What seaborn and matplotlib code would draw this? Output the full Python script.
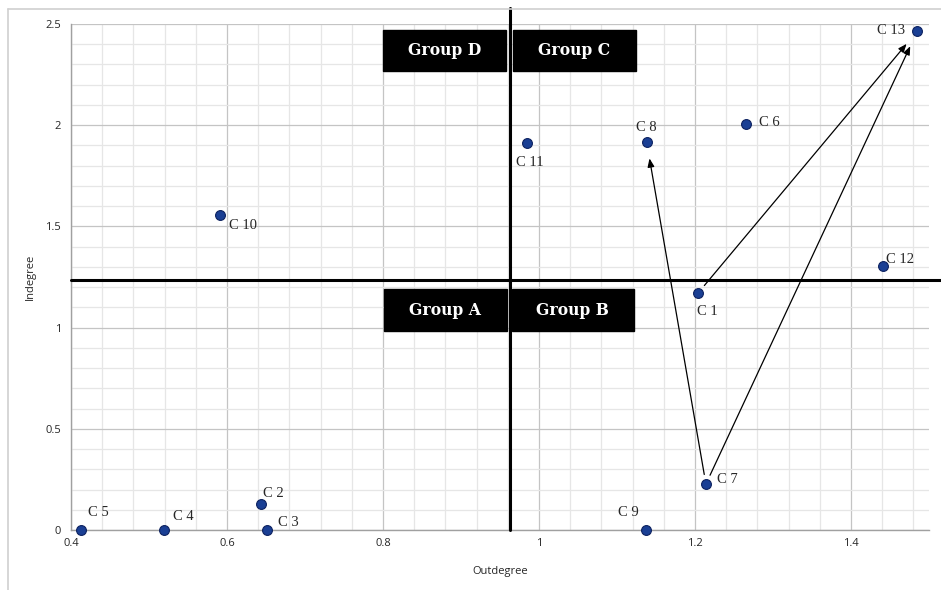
import matplotlib
matplotlib.use("Agg")
import matplotlib.pyplot as plt
from matplotlib.ticker import MultipleLocator
from matplotlib.lines import Line2D
import seaborn as sns
import pandas as pd

labels = ["C 1", "C 2", "C 3", "C 4", "C 5", "C 6", "C 7", "C 8", "C 9", "C 10", "C 11", "C 12", "C 13"]
outdegree = [1.204, 0.644, 0.651, 0.519, 0.413, 1.265, 1.214, 1.138, 1.137, 0.591, 0.985, 1.441, 1.485]
indegree = [1.171, 0.128, 0.0, 0.0, 0.0, 2.006, 0.227, 1.917, 0.0, 1.556, 1.912, 1.304, 2.465]
label_offsets = {  # pixel offsets of label centres from point
    "C 1": (9, -19), "C 2": (12, 11), "C 3": (22, 7), "C 4": (19, 13), "C 5": (17, 18),
    "C 6": (24, 1), "C 7": (21, 5), "C 8": (0, 14), "C 9": (-17, 17), "C 10": (23, -10),
    "C 11": (3, -19), "C 12": (17, 7), "C 13": (-26, 1),
}
arrows = [("C 7", "C 8"), ("C 1", "C 13"), ("C 7", "C 13")]
x_threshold = 0.963
y_threshold = 1.235
groups = ["Group D", "Group C", "Group A", "Group B"]
group_boxes = {  # (x0, x1, y0, y1) in data units
    "Group D": (0.8, 0.958, 2.268, 2.47),
    "Group C": (0.967, 1.124, 2.268, 2.47),
    "Group A": (0.801, 0.959, 0.983, 1.19),
    "Group B": (0.965, 1.122, 0.983, 1.19),
}

df = pd.DataFrame({"label": labels, "Outdegree": outdegree, "Indegree": indegree})

sns.set_style("white")
fig = plt.figure(figsize=(9.41, 5.90), dpi=100)
ax = fig.add_axes([71 / 941, 1 - 530 / 590, (929 - 71) / 941, (530 - 24) / 590])

# outer chart border
fig.add_artist(Line2D([8 / 941, 8 / 941], [0, 1 - 9 / 590], transform=fig.transFigure, color="#d0d0d0", lw=1.2))
fig.add_artist(Line2D([8 / 941, 1], [1 - 9 / 590, 1 - 9 / 590], transform=fig.transFigure, color="#d0d0d0", lw=1.2))

ax.set_xlim(0.4, 1.5)
ax.set_ylim(0, 2.5)
ax.xaxis.set_major_locator(MultipleLocator(0.2))
ax.xaxis.set_minor_locator(MultipleLocator(0.04))
ax.yaxis.set_major_locator(MultipleLocator(0.5))
ax.yaxis.set_minor_locator(MultipleLocator(0.1))
ax.grid(which="major", color="#c4c4c4", lw=0.9)
ax.grid(which="minor", color="#e6e6e6", lw=0.9)
ax.set_axisbelow(True)
for s in ["top", "right"]:
    ax.spines[s].set_visible(False)
for s in ["left", "bottom"]:
    ax.spines[s].set_color("#a0a0a0")
    ax.spines[s].set_linewidth(1.0)
ax.tick_params(axis="both", which="major", length=4, color="#a0a0a0", labelsize=8, pad=3)
ax.tick_params(axis="x", which="major", length=0, pad=6)
ax.tick_params(which="minor", length=0)
ax.xaxis.set_major_formatter(plt.FuncFormatter(lambda v, p: f"{v:g}"))
ax.yaxis.set_major_formatter(plt.FuncFormatter(lambda v, p: f"{v:g}"))
for t in ax.get_xticklabels() + ax.get_yticklabels():
    t.set_fontfamily("Open Sans")

# quadrant lines
ax.plot([0.4, 1.515], [y_threshold, y_threshold], color="black", lw=2.2, clip_on=False, zorder=3)
ax.plot([x_threshold, x_threshold], [0, 2.579], color="black", lw=2.2, clip_on=False, zorder=3)

# group boxes
for g in groups:
    x0, x1, y0, y1 = group_boxes[g]
    ax.add_patch(plt.Rectangle((x0, y0), x1 - x0, y1 - y0, color="black", zorder=4))
    ax.text((x0 + x1) / 2, (y0 + y1) / 2, g, color="white", fontsize=12.5, fontweight="bold",
            fontfamily="DejaVu Serif", ha="center", va="center", zorder=5,
            fontstretch="condensed")

# points
sns.scatterplot(data=df, x="Outdegree", y="Indegree", ax=ax, s=50, color="#1a3f94",
                edgecolor="#0d2260", linewidth=0.8, zorder=6, clip_on=False)

pos = dict(zip(labels, zip(outdegree, indegree)))
for lab in labels:
    dx, dy = label_offsets[lab]
    ax.annotate(lab, pos[lab], xytext=(dx, dy), textcoords="offset pixels",
                ha="center", va="center", fontsize=10.5, fontfamily="Liberation Serif", zorder=7)

for a, b in arrows:
    ax.annotate("", xy=pos[b], xytext=pos[a],
                arrowprops=dict(arrowstyle="-|>,head_length=0.5,head_width=0.2", color="black",
                                lw=0.9, shrinkA=7, shrinkB=12), zorder=5)

ax.set_xlabel("Outdegree", fontsize=8, fontfamily="Open Sans", labelpad=12)
ax.set_ylabel("Indegree", fontsize=8, fontfamily="Open Sans", labelpad=7)

fig.savefig("out.png", dpi=100)
